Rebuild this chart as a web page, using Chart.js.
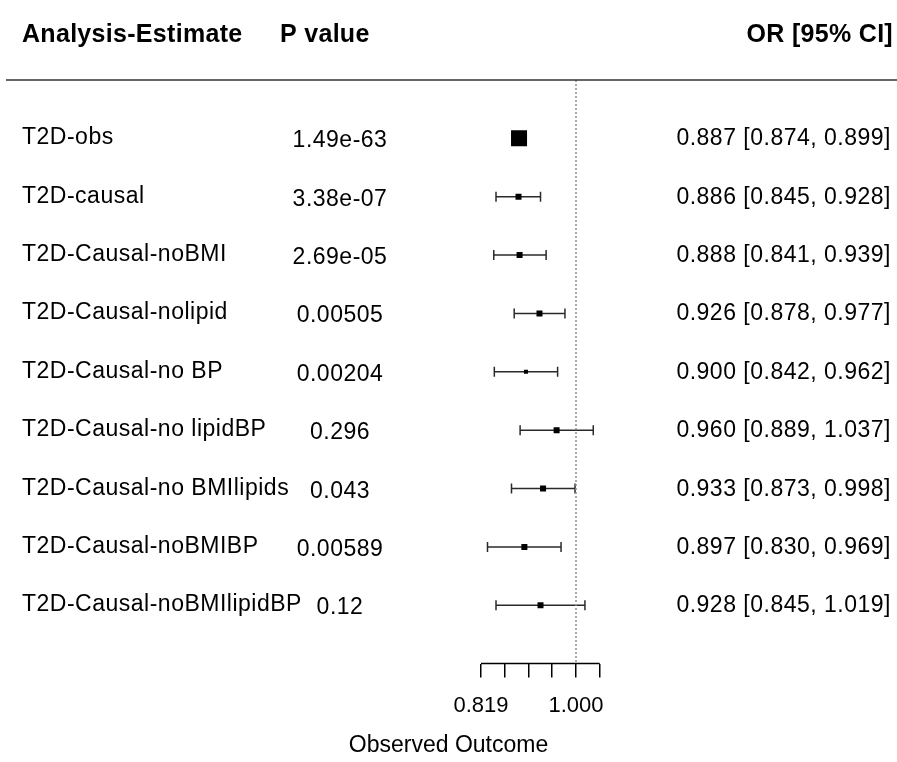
<!DOCTYPE html>
<html lang="en">
<head>
  <meta charset="UTF-8">
  <title>Forest plot - T2D analyses</title>
  <script src="https://cdn.jsdelivr.net/npm/chart.js"></script>
  <style>
    body {
      margin: 0;
      background: #fff;
    }
    #wrap {
      width: 897px;
      height: 762px;
      position: relative;
    }
  </style>
</head>
<body>
  <div id="wrap"><canvas id="forest"></canvas></div>

  <script>
    // data
    const analyses = [
      'T2D-obs',
      'T2D-causal',
      'T2D-Causal-noBMI',
      'T2D-Causal-nolipid',
      'T2D-Causal-no BP',
      'T2D-Causal-no lipidBP',
      'T2D-Causal-no BMIlipids',
      'T2D-Causal-noBMIBP',
      'T2D-Causal-noBMIlipidBP'
    ];
    const pValues = ['1.49e-63', '3.38e-07', '2.69e-05', '0.00505', '0.00204', '0.296', '0.043', '0.00589', '0.12'];
    const estimates = [0.887, 0.886, 0.888, 0.926, 0.900, 0.960, 0.933, 0.897, 0.928];
    const lower = [0.874, 0.845, 0.841, 0.878, 0.842, 0.889, 0.873, 0.830, 0.845];
    const upper = [0.899, 0.928, 0.939, 0.977, 0.962, 1.037, 0.998, 0.969, 1.019];
    const axisTicks = [0.8187, 0.8607, 0.9048, 0.9512, 1.0, 1.0513];
    const axisLabels = ['0.819', '', '', '', '1.000', ''];
    const refValue = 1;

    // look
    const FONT = '"Liberation Sans", Arial, sans-serif';
    const boxSide = [16, 6, 6, 6, 4, 6, 6, 6, 6];  // px, square size per row
    const xMin = 0.2974, xMax = 1.9656;              // makes the x range span the whole canvas
    Chart.defaults.font.family = FONT;

    const rows = analyses.map((_, i) => i);

    const datasets = [
      {
        label: 'estimate',
        type: 'scatter',
        data: estimates.map((v, i) => ({ x: v, y: i })),
        pointStyle: 'rect',
        pointRadius: boxSide.map(s => s / Math.SQRT2),
        backgroundColor: '#000',
        borderWidth: 0
      },
      {
        label: 'reference',
        type: 'line',
        data: [{ x: refValue, y: -1 }, { x: refValue, y: 9 }],
        borderColor: '#8c8c8c',
        borderDash: [2, 2],
        borderWidth: 1.5,
        pointRadius: 0
      }
    ];

    rows.forEach(i => {
      datasets.push({
        label: 'ci ' + i,
        type: 'line',
        data: [{ x: lower[i], y: i }, { x: upper[i], y: i }],
        borderColor: '#2a2a2a',
        borderWidth: 1.5,
        pointStyle: 'line',
        rotation: 90,
        pointRadius: 5,
        pointBorderColor: '#2a2a2a',
        pointBorderWidth: 1.5
      });
    });

    const forestText = {
      id: 'forestText',
      afterDraw(chart) {
        const { ctx, chartArea, scales: { x, y } } = chart;
        ctx.save();
        ctx.fillStyle = '#000';

        // column headers
        ctx.font = 'bold 25px ' + FONT;
        ctx.letterSpacing = '0.3px';
        ctx.textBaseline = 'alphabetic';
        ctx.textAlign = 'left';
        ctx.fillText('Analysis-Estimate', 22, 42);
        ctx.fillText('P value', 280, 42);
        ctx.textAlign = 'right';
        ctx.fillText('OR [95% CI]', 893, 42);

        // rule under the headers
        ctx.strokeStyle = '#333';
        ctx.lineWidth = 1.5;
        ctx.beginPath();
        ctx.moveTo(6, chartArea.top);
        ctx.lineTo(chart.width, chartArea.top);
        ctx.stroke();

        // row texts
        ctx.font = '23px ' + FONT;
        ctx.letterSpacing = '0.5px';
        rows.forEach(i => {
          const py = y.getPixelForValue(i);
          ctx.textAlign = 'left';
          ctx.fillText(analyses[i], 22, py + 6);
          ctx.textAlign = 'center';
          ctx.fillText(pValues[i], 340, py + 9);
          ctx.textAlign = 'right';
          const txt = estimates[i].toFixed(3) + ' [' + lower[i].toFixed(3) + ', ' + upper[i].toFixed(3) + ']';
          ctx.fillText(txt, 891, py + 7);
        });

        // short axis line between first and last tick
        const a = x.getPixelForValue(axisTicks[0]);
        const b = x.getPixelForValue(axisTicks[axisTicks.length - 1]);
        ctx.strokeStyle = '#000';
        ctx.lineWidth = 1.5;
        ctx.beginPath();
        ctx.moveTo(a, chartArea.bottom);
        ctx.lineTo(b, chartArea.bottom);
        ctx.stroke();
        ctx.restore();
      }
    };

    new Chart(document.getElementById('forest'), {
      type: 'scatter',
      data: { datasets },
      options: {
        responsive: true,
        maintainAspectRatio: false,
        animation: false,
        layout: { autoPadding: false, padding: { top: 80, left: 0, right: 0, bottom: 0 } },
        plugins: {
          legend: { display: false },
          tooltip: { enabled: false }
        },
        scales: {
          x: {
            type: 'logarithmic',
            min: xMin,
            max: xMax,
            afterBuildTicks: scale => {
              scale.ticks = axisTicks.map(v => ({ value: v }));
            },
            ticks: {
              autoSkip: false,
              maxRotation: 0,
              padding: 15,
              color: '#000',
              font: { size: 22 },
              callback: (v, idx) => axisLabels[idx]
            },
            grid: {
              drawOnChartArea: false,
              drawTicks: true,
              tickLength: 14,
              color: '#000',
              lineWidth: 1.5
            },
            border: { display: false },
            title: {
              display: true,
              text: 'Observed Outcome',
              color: '#000',
              font: { size: 23, lineHeight: 1 },
              padding: { top: 0, bottom: 5 }
            }
          },
          y: {
            type: 'linear',
            min: -1,
            max: 9,
            reverse: true,
            display: false
          }
        }
      },
      plugins: [forestText]
    });
  </script>
</body>
</html>
